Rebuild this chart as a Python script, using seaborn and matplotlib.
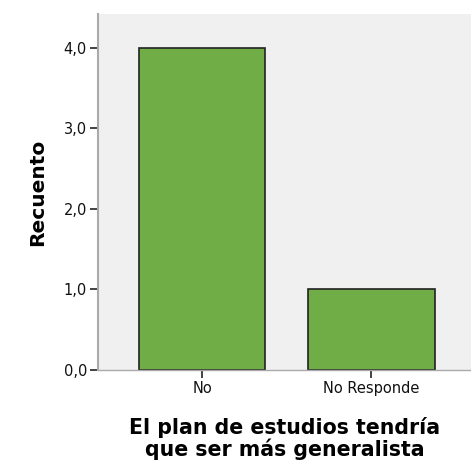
import seaborn as sns
import matplotlib.pyplot as plt
import pandas as pd
from matplotlib.ticker import FuncFormatter

# Datos del gráfico
categorias = ['No', 'No Responde']
recuento = [4, 1]

df = pd.DataFrame({'cat': categorias, 'n': recuento})

sns.set_style('white')
plt.rcParams['font.family'] = ['DejaVu Sans']

fig = plt.figure(figsize=(4.71, 4.65), dpi=100)
ax = fig.add_axes([98 / 471, 1 - 370 / 465, 373 / 471, 356 / 465])
ax.set_facecolor('#f0f0f0')

sns.barplot(data=df, x='cat', y='n', color='#70ad47', saturation=1,
            width=0.75, edgecolor='#222222', linewidth=1.2, ax=ax)

ax.set_xlim(-0.615, 1.59)
ax.set_ylim(0, 4.42)
ax.set_yticks([0, 1, 2, 3, 4])
ax.yaxis.set_major_formatter(FuncFormatter(lambda v, p: f'{v:.1f}'.replace('.', ',')))

for s in ['top', 'right']:
    ax.spines[s].set_visible(False)
ax.spines['left'].set_color('#aaaaaa')
ax.spines['left'].set_linewidth(1.5)
ax.spines['bottom'].set_color('#aaaaaa')
ax.spines['bottom'].set_linewidth(1.0)

ax.tick_params(axis='both', which='major', length=6, width=1.2, color='#222222',
               labelsize=10.5, labelcolor='#111111', pad=2, direction='out',
               left=True, bottom=True)

ax.set_ylabel('Recuento', fontsize=14.5, fontweight='bold', labelpad=12, color='black')
ax.set_xlabel('El plan de estudios tendría\nque ser más generalista',
              fontsize=14.8, fontweight='bold', labelpad=15, linespacing=1.05,
              color='black')

fig.savefig('out.png', dpi=100)
